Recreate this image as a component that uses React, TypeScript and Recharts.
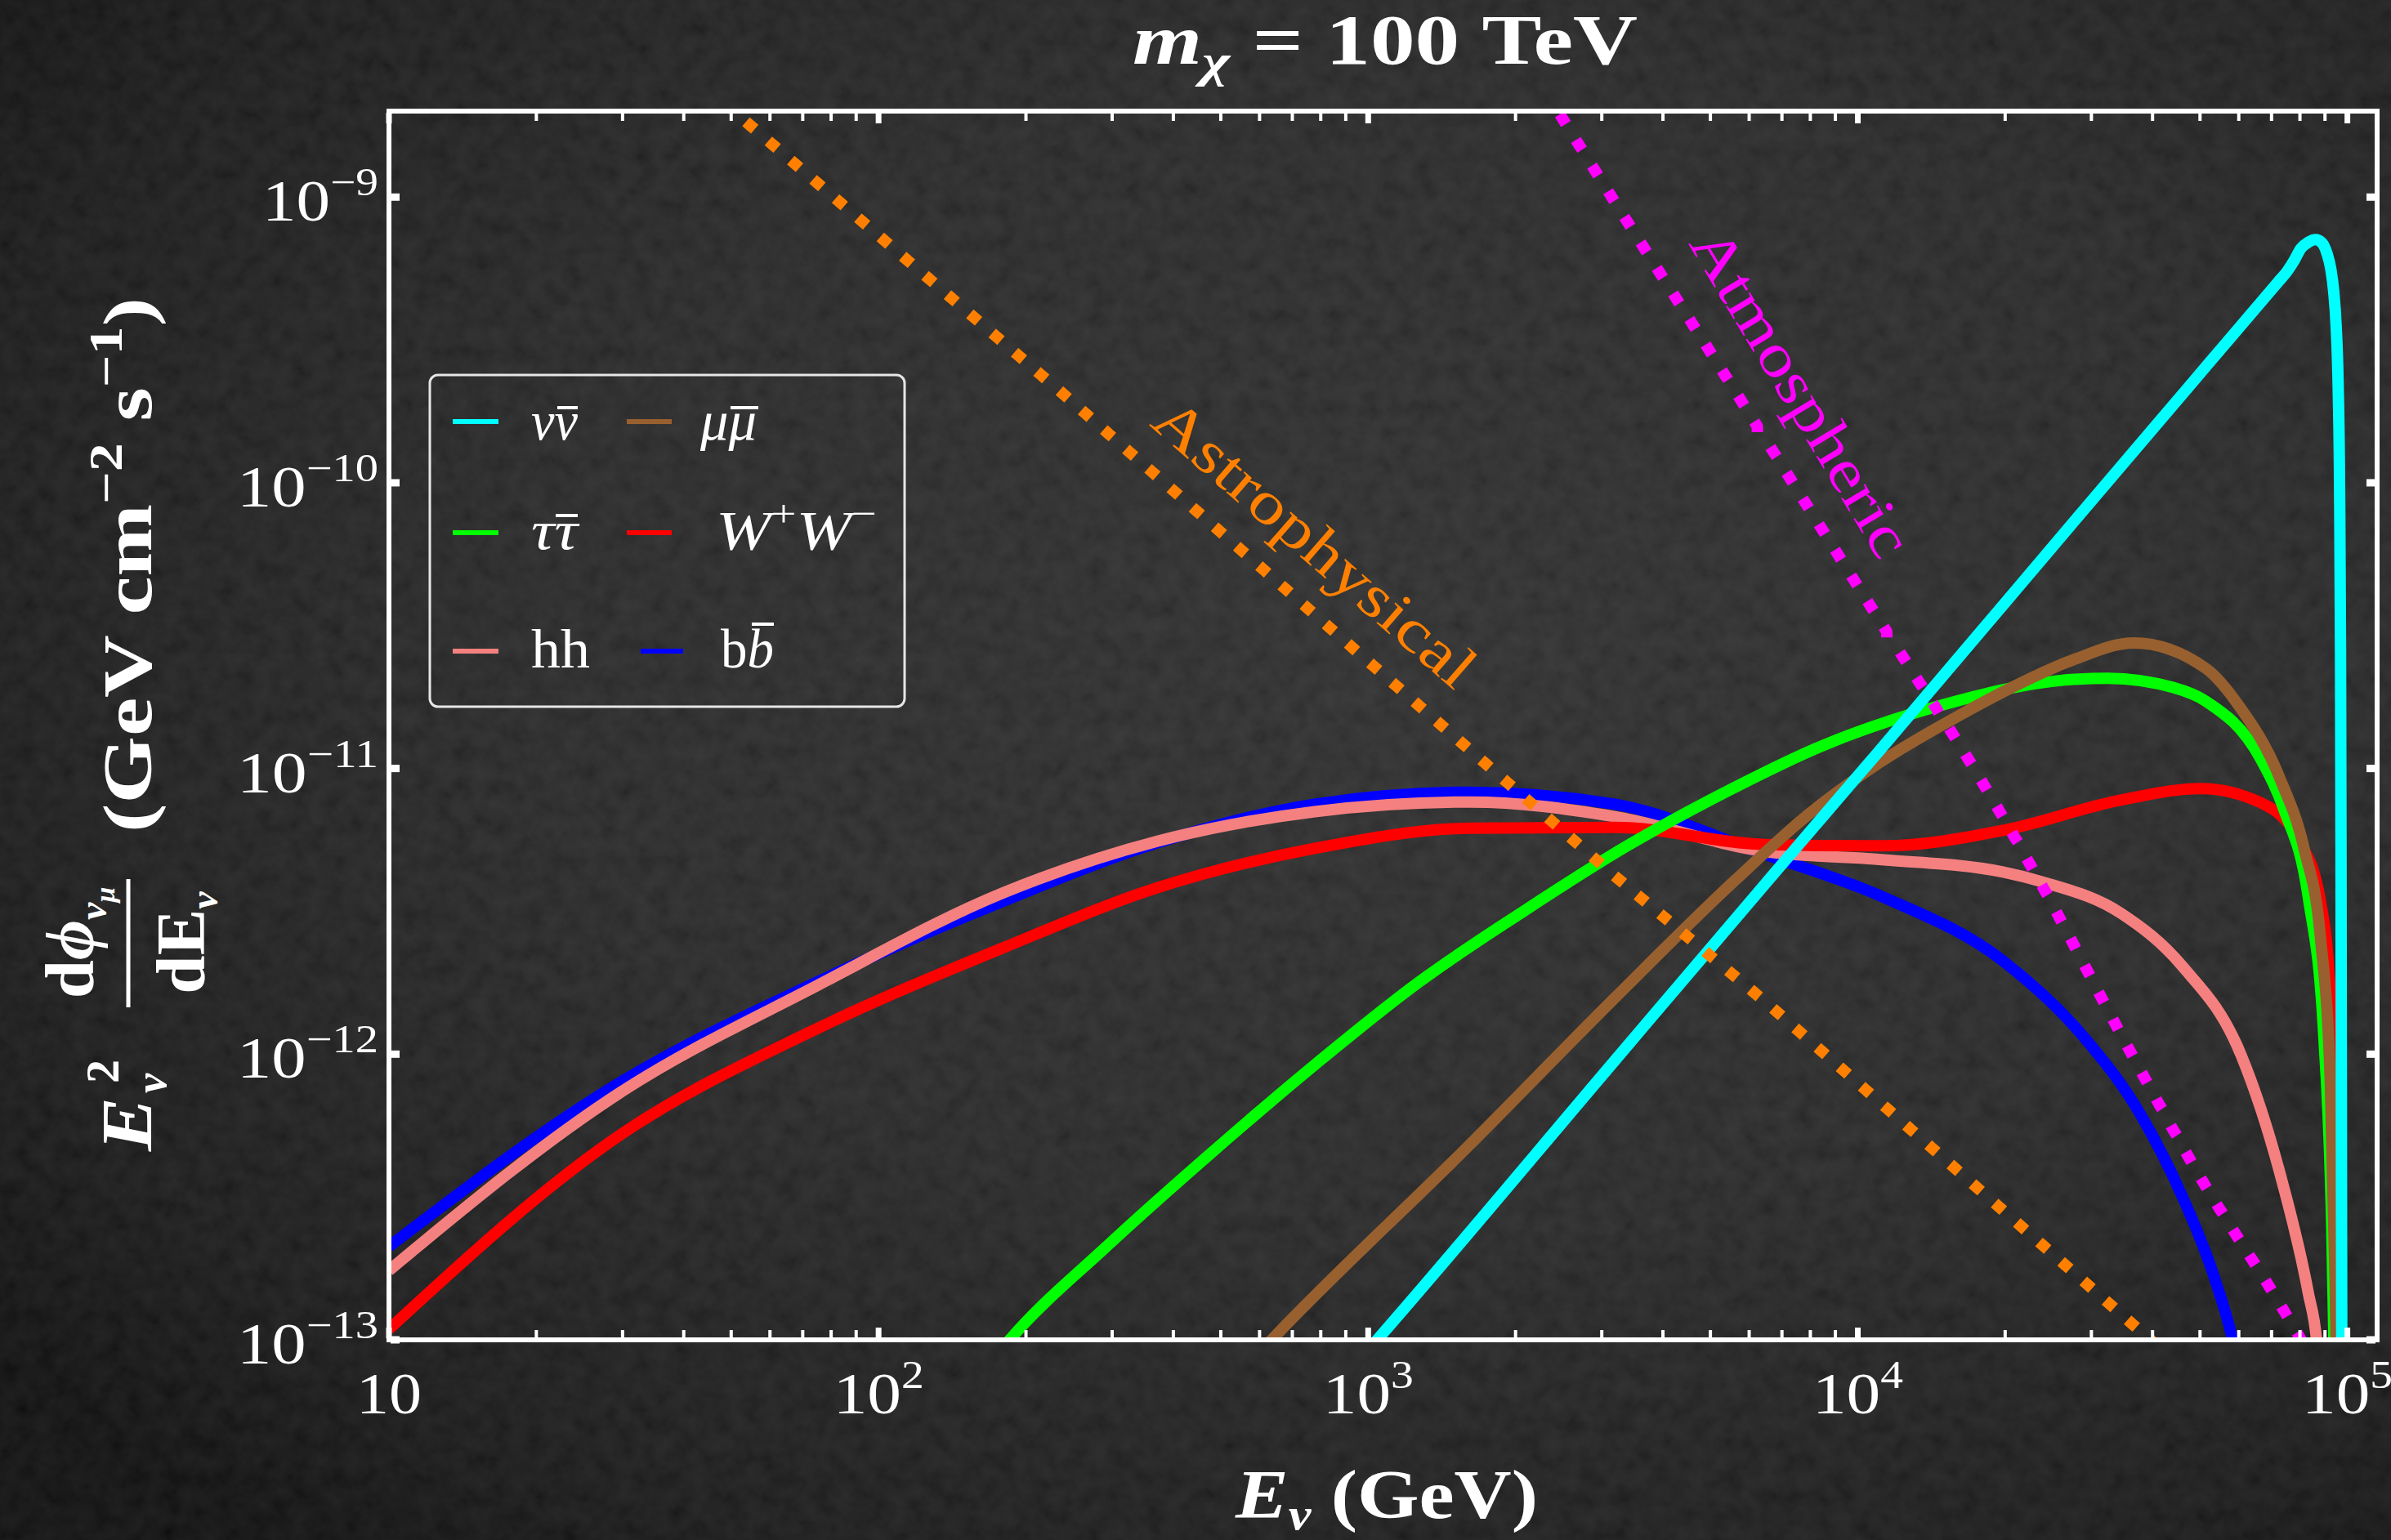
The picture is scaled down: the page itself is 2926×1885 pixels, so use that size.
import React from 'react';
import { LineChart, Line, XAxis, YAxis } from 'recharts';

const W = 2926;
const H = 1885;
const FONT = '"Liberation Serif", "Times New Roman", serif';

// ---------- data: [E_nu (GeV), E^2 dPhi/dE (GeV cm^-2 s^-1)] ----------
const bbbar: [number, number][] = [
  [10, 2.12e-13], [30, 8.05e-13], [75, 1.79e-12], [179, 3.42e-12], [372, 5.5e-12],
  [778, 7.5e-12], [1620, 8.26e-12], [3190, 7.5e-12], [6470, 5.0e-12], [11300, 3.54e-12],
  [19800, 2.12e-12], [28800, 1.16e-12], [37900, 6.1e-13], [45800, 3.23e-13],
  [53200, 1.7e-13], [58300, 1.0e-13], [63100, 5e-14],
];
const hh: [number, number][] = [
  [10, 1.75e-13], [30, 7.43e-13], [75, 1.74e-12], [179, 3.66e-12], [372, 5.57e-12],
  [778, 7.06e-12], [1620, 7.63e-12], [3190, 6.78e-12], [6470, 5.12e-12], [11300, 4.79e-12],
  [19800, 4.34e-12], [23800, 4.01e-12], [34600, 3.1e-12], [45800, 2.05e-12],
  [60700, 9.9e-13], [72900, 3.8e-13], [83200, 1.46e-13], [86500, 1.0e-13], [89100, 5e-14],
];
const wpwm: [number, number][] = [
  [10, 1.09e-13], [30, 5.28e-13], [75, 1.23e-12], [179, 2.35e-12], [372, 3.83e-12],
  [778, 5.25e-12], [1620, 6.18e-12], [3190, 6.22e-12], [6470, 5.42e-12], [11300, 5.36e-12],
  [19800, 6.07e-12], [34600, 7.76e-12], [50200, 8.51e-12], [66500, 7.59e-12],
  [80000, 5.53e-12], [88100, 3.42e-12], [92300, 1.6e-12], [94000, 4.5e-13],
  [94800, 1.0e-13], [95500, 3e-14],
];
const tautau: [number, number][] = [
  [160, 7.4e-14], [188, 1.03e-13], [292, 2.12e-13], [476, 4.48e-13], [778, 9.18e-13],
  [1271, 1.79e-12], [2075, 3.16e-12], [3381, 5.36e-12], [5534, 8.49e-12], [8356, 1.19e-11],
  [16300, 1.74e-11], [20500, 1.91e-11], [25100, 2.02e-11], [32400, 2.07e-11],
  [44100, 1.92e-11], [51400, 1.72e-11], [66500, 1.08e-11], [74300, 7.14e-12],
  [83200, 3.54e-12], [89500, 1.16e-12], [92900, 2.5e-13], [94400, 6e-14],
];
const mumu: [number, number][] = [
  [562, 8e-14], [635, 1.0e-13], [1585, 4.68e-13], [3162, 1.55e-12], [5623, 4.07e-12],
  [7943, 6.92e-12], [11090, 1.05e-11], [16300, 1.55e-11], [20500, 1.91e-11],
  [27540, 2.4e-11], [36640, 2.75e-11], [51400, 2.24e-11], [60000, 1.66e-11],
  [72900, 9.18e-12], [81700, 5.18e-12], [88100, 2.56e-12], [92300, 7.9e-13],
  [94400, 1.6e-13], [95500, 5e-14],
];
const nunu: [number, number][] = [
  [900, 7.5e-14], [1043, 1.0e-13], [3190, 9.5e-13], [6650, 4.17e-12], [11100, 1.16e-11],
  [27900, 7.46e-11], [51400, 2.55e-10], [72000, 5.02e-10], [75500, 5.53e-10], [77980, 6.03e-10],
  [80350, 6.61e-10], [83180, 6.95e-10], [86100, 7.1e-10], [88720, 6.92e-10],
  [90780, 6.38e-10], [92470, 5.62e-10], [93760, 4.68e-10], [94840, 3.55e-10],
  [95720, 2.24e-10], [96380, 1.0e-10], [96830, 2.51e-11], [97050, 5.0e-12],
  [97270, 3.16e-13], [97500, 3.16e-14],
];
const astrophysical: [number, number][] = [
  [40, 2.85e-9], [52, 1.92e-9], [238, 2.05e-10], [1000, 2.37e-11], [3190, 4.2e-12],
  [6550, 1.5e-12], [39600, 1.0e-13], [50100, 7.1e-14],
];
const atmospheric: [number, number][] = [
  [1995, 3.5e-9], [2477, 1.92e-9], [5620, 2.09e-10], [12800, 2.24e-11], [15850, 1.27e-11],
  [23800, 3.88e-12], [34600, 1.16e-12], [50200, 3.68e-13], [72900, 1.33e-13], [89100, 7.4e-14],
];

// ---------- ticks ----------
const xTicks = [
  10, 20, 30, 40, 50, 60, 70, 80, 90,
  100, 200, 300, 400, 500, 600, 700, 800, 900,
  1000, 2000, 3000, 4000, 5000, 6000, 7000, 8000, 9000,
  10000, 20000, 30000, 40000, 50000, 60000, 70000, 80000, 90000,
  100000,
];
const yTicks = [1e-13, 1e-12, 1e-11, 1e-10, 1e-9];
const xDomain = [10, 115000];
const yDomain = [1e-13, 2e-9];

const COLORS = {
  nu: '#00ffff',
  mu: '#98602f',
  tau: '#00ff00',
  w: '#ff0000',
  h: '#f58080',
  b: '#0000ff',
  astro: '#ff8000',
  atm: '#ff00ff',
};

const toPts = (a: [number, number][]) => a.map(([x, y]) => ({ x, y }));

const isDecade = (v: number) => Math.abs(Math.log10(v) - Math.round(Math.log10(v))) < 1e-6;
const expOf = (v: number) => Math.round(Math.log10(v));

function PowerLabel({ x, y, exp, anchor }: { x: number; y: number; exp: number; anchor: 'start' | 'middle' | 'end' }) {
  const expStr = exp < 0 ? `\u2212${-exp}` : `${exp}`;
  const len = exp === 1 ? 80 : 80 + 31 * expStr.length;
  return (
    <text x={x} y={y} textAnchor={anchor} fill="#fff" fontFamily={FONT} fontSize={72}
      textLength={len} lengthAdjust="spacingAndGlyphs">
      10
      {exp !== 1 && (
        <tspan fontSize={48} dy={-31}>
          {expStr}
        </tspan>
      )}
    </text>
  );
}

function BottomTick(props: any) {
  const { x, y, payload } = props;
  const v = payload.value;
  const major = isDecade(v);
  return (
    <g>
      <line x1={x} x2={x} y1={y - 2} y2={y - (major ? 15 : 12)} stroke="#fff" strokeWidth={major ? 7 : 4} />
      {major && <PowerLabel x={x} y={y + 90} exp={expOf(v)} anchor="middle" />}
    </g>
  );
}
function TopTick(props: any) {
  const { x, y, payload } = props;
  const major = isDecade(payload.value);
  return <line x1={x} x2={x} y1={y + 2} y2={y + (major ? 15 : 12)} stroke="#fff" strokeWidth={major ? 7 : 4} />;
}
function LeftTick(props: any) {
  const { x, y, payload } = props;
  return (
    <g>
      <line x1={x + 2} x2={x + 13} y1={y} y2={y} stroke="#fff" strokeWidth={9} />
      <PowerLabel x={x - 13} y={y + 29} exp={expOf(payload.value)} anchor="end" />
    </g>
  );
}
function RightTick(props: any) {
  const { x, y } = props;
  return <line x1={x - 2} x2={x - 13} y1={y} y2={y} stroke="#fff" strokeWidth={9} />;
}

// legend layout (line sample, label start/baseline/width, overline bar over the barred glyph)
const legendItems = [
  { key: 'nu', color: COLORS.nu, lx: 554, lw: 56, ly: 516, tx: 650, ty: 538, tl: 57, bar: [682, 707, 499] },
  { key: 'mu', color: COLORS.mu, lx: 767, lw: 55, ly: 516, tx: 857, ty: 538, tl: 69, bar: [894, 928, 499] },
  { key: 'tau', color: COLORS.tau, lx: 554, lw: 56, ly: 652, tx: 650, ty: 672, tl: 57, bar: [680, 707, 631] },
  { key: 'w', color: COLORS.w, lx: 767, lw: 55, ly: 652, tx: 876, ty: 672, tl: 197, bar: null },
  { key: 'h', color: COLORS.h, lx: 554, lw: 56, ly: 797, tx: 650, ty: 817, tl: 72, bar: null },
  { key: 'b', color: COLORS.b, lx: 784, lw: 52, ly: 797, tx: 882, ty: 817, tl: 65, bar: [920, 947, 764] },
];

function legendLabel(key: string) {
  switch (key) {
    case 'nu':
      return (<><tspan fontStyle="italic">ν</tspan><tspan fontStyle="italic">ν</tspan></>);
    case 'mu':
      return (<><tspan fontStyle="italic">μ</tspan><tspan fontStyle="italic">μ</tspan></>);
    case 'tau':
      return (<><tspan fontStyle="italic">τ</tspan><tspan fontStyle="italic">τ</tspan></>);
    case 'w':
      return (
        <>
          <tspan fontStyle="italic">W</tspan>
          <tspan fontSize={46} dy={-28}>+</tspan>
          <tspan fontStyle="italic" dy={28}>W</tspan>
          <tspan fontSize={46} dy={-28}>{'\u2212'}</tspan>
        </>
      );
    case 'h':
      return <tspan>hh</tspan>;
    default:
      return (<><tspan>b</tspan><tspan fontStyle="italic">b</tspan></>);
  }
}

export default function App() {
  const axisLine = { stroke: '#fff', strokeWidth: 6, strokeLinecap: 'square' as const };
  return (
    <div style={{ position: 'absolute', left: 0, top: 0, width: W, height: H, overflow: 'hidden' }}>
      <svg width={W} height={H} style={{ position: 'absolute', left: 0, top: 0 }}>
        <defs>
          <radialGradient id="bgGrad" cx="0.6" cy="0.42" r="0.75">
            <stop offset="0" stopColor="#2a2a2a" />
            <stop offset="0.5" stopColor="#232323" />
            <stop offset="0.85" stopColor="#141414" />
            <stop offset="1" stopColor="#090909" />
          </radialGradient>
          <filter id="noise" x="0" y="0" width="100%" height="100%">
            <feTurbulence type="fractalNoise" baseFrequency="0.045" numOctaves="3" seed="7" />
            <feColorMatrix type="matrix" values="0.7 0 0 0 0  0.7 0 0 0 0  0.7 0 0 0 0  0 0 0 0 0.12" />
          </filter>
        </defs>
        <rect x={0} y={0} width={W} height={H} fill="url(#bgGrad)" />
        <rect x={0} y={0} width={W} height={H} filter="url(#noise)" />
      </svg>

      <div style={{ position: 'absolute', left: 0, top: 0 }}>
        <LineChart width={W} height={H} margin={{ top: 126, right: 7, bottom: 145, left: 376 }}>
          <XAxis
            xAxisId="b" orientation="bottom" height={100} type="number" dataKey="x" scale="log"
            domain={xDomain} allowDataOverflow ticks={xTicks} interval={0}
            tick={BottomTick} tickLine={false} tickSize={0} tickMargin={0} axisLine={axisLine}
          />
          <XAxis
            xAxisId="t" orientation="top" height={10} type="number" dataKey="x" scale="log"
            domain={xDomain} allowDataOverflow ticks={xTicks} interval={0}
            tick={TopTick} tickLine={false} tickSize={0} tickMargin={0} axisLine={axisLine}
          />
          <YAxis
            yAxisId="l" orientation="left" width={100} type="number" dataKey="y" scale="log"
            domain={yDomain} allowDataOverflow ticks={yTicks} interval={0}
            tick={LeftTick} tickLine={false} tickSize={0} tickMargin={0} axisLine={axisLine}
          />
          <YAxis
            yAxisId="r" orientation="right" width={10} type="number" dataKey="y" scale="log"
            domain={yDomain} allowDataOverflow ticks={yTicks} interval={0}
            tick={RightTick} tickLine={false} tickSize={0} tickMargin={0} axisLine={axisLine}
          />

          <Line xAxisId="t" yAxisId="r" data={toPts(astrophysical)} dataKey="y" stroke="none" dot={false} isAnimationActive={false} />

          <Line xAxisId="b" yAxisId="l" data={toPts(bbbar)} dataKey="y" type="monotone" stroke={COLORS.b} strokeWidth={14} dot={false} isAnimationActive={false} />
          <Line xAxisId="b" yAxisId="l" data={toPts(hh)} dataKey="y" type="monotone" stroke={COLORS.h} strokeWidth={14} dot={false} isAnimationActive={false} />
          <Line xAxisId="b" yAxisId="l" data={toPts(wpwm)} dataKey="y" type="monotone" stroke={COLORS.w} strokeWidth={14} dot={false} isAnimationActive={false} />
          <Line xAxisId="b" yAxisId="l" data={toPts(tautau)} dataKey="y" type="monotone" stroke={COLORS.tau} strokeWidth={14} dot={false} isAnimationActive={false} />
          <Line xAxisId="b" yAxisId="l" data={toPts(mumu)} dataKey="y" type="monotone" stroke={COLORS.mu} strokeWidth={14} dot={false} isAnimationActive={false} />
          <Line xAxisId="b" yAxisId="l" data={toPts(nunu)} dataKey="y" type="monotone" stroke={COLORS.nu} strokeWidth={14} dot={false} isAnimationActive={false} />
          <Line xAxisId="b" yAxisId="l" data={toPts(astrophysical)} dataKey="y" type="linear" stroke={COLORS.astro} strokeWidth={14} strokeDasharray="0.1 36" strokeLinecap="square" dot={false} isAnimationActive={false} />
          <Line xAxisId="b" yAxisId="l" data={toPts(atmospheric)} dataKey="y" type="monotone" stroke={COLORS.atm} strokeWidth={14} strokeDasharray="0.1 37" strokeLinecap="square" dot={false} isAnimationActive={false} />
        </LineChart>
      </div>

      <svg width={W} height={H} style={{ position: 'absolute', left: 0, top: 0, pointerEvents: 'none' }}>
        {/* title */}
        <text x={1386} y={78} fill="#fff" fontFamily={FONT} fontSize={86} fontWeight="bold" textLength={618} lengthAdjust="spacingAndGlyphs">
          <tspan fontStyle="italic">m</tspan>
          <tspan fontStyle="italic" fontSize={58} dy={16}>χ</tspan>
          <tspan dy={-16}>{' = 100 TeV'}</tspan>
        </text>

        {/* x label */}
        <text x={1512} y={1858} fill="#fff" fontFamily={FONT} fontSize={84} fontWeight="bold" textLength={370} lengthAdjust="spacingAndGlyphs">
          <tspan fontStyle="italic">E</tspan>
          <tspan fontStyle="italic" fontSize={54} dy={14}>ν</tspan>
          <tspan dy={-14}>{' (GeV)'}</tspan>
        </text>

        {/* y label */}
        <g transform="translate(185 886) rotate(-90)" fill="#fff" fontFamily={FONT} fontWeight="bold">
          <text x={-523} y={0} fontSize={88} fontStyle="italic" textLength={66} lengthAdjust="spacingAndGlyphs">E</text>
          <text x={-452} y={18} fontSize={54} fontStyle="italic">ν</text>
          <text x={-440} y={-40} fontSize={58}>2</text>
          <text x={-268} y={-71} fontSize={85} textAnchor="middle">
            d<tspan fontStyle="italic">ϕ</tspan>
            <tspan fontSize={48} dy={16} fontStyle="italic">ν</tspan>
            <tspan fontSize={34} dy={10} fontStyle="italic">μ</tspan>
          </text>
          <line x1={-347} x2={-190} y1={-28} y2={-28} stroke="#fff" strokeWidth={5} />
          <text x={-268} y={65} fontSize={85} textAnchor="middle">
            dE<tspan fontSize={48} dy={16} fontStyle="italic">ν</tspan>
          </text>
          <text x={-133} y={0} fontSize={85} textLength={655} lengthAdjust="spacingAndGlyphs">
            (GeV cm<tspan fontSize={56} dy={-36}>{'\u22122'}</tspan>
            <tspan dy={36}>{' s'}</tspan>
            <tspan fontSize={56} dy={-36}>{'\u22121'}</tspan>
            <tspan dy={36}>)</tspan>
          </text>
        </g>

        {/* curve labels */}
        <text transform="translate(1593 683) rotate(41)" textAnchor="middle" fill={COLORS.astro} fontFamily={FONT} fontSize={74} textLength={497} lengthAdjust="spacingAndGlyphs">
          Astrophysical
        </text>
        <text transform="translate(2183 493) rotate(59)" textAnchor="middle" fill={COLORS.atm} fontFamily={FONT} fontSize={74} textLength={455} lengthAdjust="spacingAndGlyphs">
          Atmospheric
        </text>

        {/* legend */}
        <rect x={526} y={459} width={581} height={406} rx={10} ry={10} fill="none" stroke="#e6e6e6" strokeWidth={3} />
        {legendItems.map((it) => (
          <g key={it.key}>
            <line x1={it.lx} x2={it.lx + it.lw} y1={it.ly} y2={it.ly} stroke={it.color} strokeWidth={6} />
            <text x={it.tx} y={it.ty} fill="#fff" fontFamily={FONT} fontSize={68} textLength={it.tl} lengthAdjust="spacingAndGlyphs">
              {legendLabel(it.key)}
            </text>
            {it.bar && (
              <line x1={it.bar[0]} x2={it.bar[1]} y1={it.bar[2]} y2={it.bar[2]} stroke="#fff" strokeWidth={4} />
            )}
          </g>
        ))}
      </svg>
    </div>
  );
}
